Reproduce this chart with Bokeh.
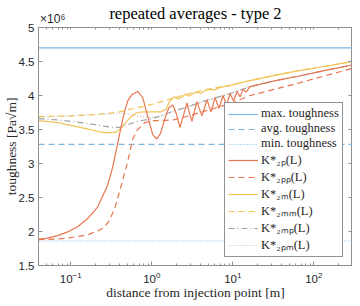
import math
from bokeh.plotting import figure
from bokeh.models import (Range1d, Legend, LegendItem, LinearAxis, LogAxis,
                          FixedTicker, LogTicker)
from bokeh.embed import file_html
from bokeh.resources import INLINE

# ---------------- data (toughness in units of 1e6 Pa*sqrt(m)) ----------------
x_limits = [0.04, 300]
y_limits = [1.5, 5.0]
y_ticks = [1.5, 2.0, 2.5, 3.0, 3.5, 4.0, 4.5, 5.0]
y_tick_labels = ["1.5", "2", "2.5", "3", "3.5", "4", "4.5", "5"]

max_toughness = 4.70
avg_toughness = 3.28
min_toughness = 1.86

k2p_x = [0.04, 0.05, 0.0687, 0.09, 0.1216, 0.1616, 0.2148, 0.2855, 0.33, 0.38, 0.42,
         0.463, 0.505, 0.566, 0.67, 0.774, 0.893, 1.03, 1.15, 1.28, 1.45, 1.62, 1.82,
         2.0, 2.22, 2.45, 2.72, 2.92, 3.13, 3.37, 3.61, 3.88, 4.16, 4.48, 4.8, 5.38,
         6.03, 6.76, 7.57, 8.37, 9.25, 10.2, 11.3, 12.3, 13.4, 14.6, 16.3, 34, 68, 139, 300]
k2p_y = [1.89, 1.90, 1.94, 1.99, 2.07, 2.19, 2.36, 2.68, 2.95, 3.30, 3.55,
         3.77, 3.92, 4.01, 4.06, 3.97, 3.69, 3.42, 3.36, 3.44, 3.66, 3.82, 3.86,
         3.74, 3.53, 3.70, 3.89, 3.74, 3.62, 3.77, 3.91, 3.80, 3.70, 3.82, 3.94, 3.76,
         3.97, 3.81, 4.00, 3.86, 4.03, 3.92, 4.06, 3.98, 4.09, 4.05, 4.13, 4.22, 4.29, 4.37, 4.45]

k2pp_x = [0.04, 0.07, 0.1, 0.16, 0.2275, 0.262, 0.30, 0.349, 0.414, 0.505, 0.582, 0.67,
          0.82, 1.0, 1.3, 1.82, 2.5, 3.93, 9.25, 16.3, 68, 300]
k2pp_y = [1.88, 1.89, 1.91, 1.95, 2.02, 2.07, 2.16, 2.34, 2.65, 3.03, 3.36, 3.50,
          3.60, 3.63, 3.63, 3.64, 3.68, 3.75, 3.88, 4.00, 4.19, 4.40]

k2m_x = [0.04, 0.07, 0.1, 0.16, 0.22, 0.28, 0.36, 0.42, 0.5, 0.58, 0.67, 0.8, 1.0, 1.3,
         1.5, 1.67, 1.9, 2.1, 2.35, 2.6, 2.9, 3.2, 3.6, 4.0, 4.5, 5.2, 6.0, 7.0, 9.25,
         16.3, 34, 68, 139, 300]
k2m_y = [3.63, 3.60, 3.56, 3.51, 3.47, 3.45, 3.46, 3.52, 3.63, 3.71, 3.75, 3.76, 3.76, 3.76,
         3.80, 3.92, 3.98, 3.95, 3.97, 4.02, 3.99, 4.03, 4.05, 4.03, 4.07, 4.09, 4.08, 4.12, 4.15,
         4.22, 4.30, 4.37, 4.43, 4.50]

k2mm_x = [0.04, 0.1, 0.2, 0.3, 0.4, 0.5, 0.67, 1.0, 1.3, 1.82, 2.72, 4.8, 9.25, 16.3,
          34, 68, 139, 300]
k2mm_y = [3.69, 3.70, 3.72, 3.74, 3.76, 3.79, 3.82, 3.87, 3.91, 3.96, 4.02, 4.09, 4.15, 4.22,
          4.30, 4.37, 4.43, 4.50]

k2mp_x = [0.04, 0.07, 0.1, 0.16, 0.25, 0.33, 0.4, 0.5, 0.67, 1.0, 1.3, 1.82, 2.72, 4.8,
          9.25, 16.3, 34, 68, 139, 300]
k2mp_y = [3.66, 3.64, 3.62, 3.59, 3.55, 3.53, 3.53, 3.57, 3.62, 3.66, 3.70, 3.77, 3.83, 3.93,
          4.03, 4.13, 4.22, 4.29, 4.37, 4.45]

k2pm_x = [0.04, 0.1, 0.2, 0.3, 0.4, 0.5, 0.67, 0.9, 1.2, 1.82, 2.72, 4.8, 9.25, 16.3,
          34, 68, 139, 300]
k2pm_y = [3.68, 3.70, 3.72, 3.73, 3.74, 3.73, 3.70, 3.68, 3.69, 3.76, 3.83, 3.93, 4.03, 4.13,
          4.22, 4.29, 4.37, 4.45]

title_text = "repeated averages - type 2"
x_label = "distance from injection point [m]"
y_label = "toughness [Pa√m]"
exponent_text = "×10⁶"

# ---------------- styles ----------------
BLUE = "#7db6e0"
ORANGE = "#e8764f"
YELLOW = "#f2c458"
GRAY = "#a3a3a3"
GRAY2 = "#bdbdbd"
AXIS = "#8f8f8f"
TEXT = "#262626"
SERIF = "Liberation Serif"
SANS = "Liberation Sans"

p = figure(width=352, height=302, x_axis_type="log", title=None,
           x_range=Range1d(*x_limits), y_range=Range1d(*y_limits),
           output_backend="svg", toolbar_location=None,
           min_border_left=31, min_border_right=0, min_border_top=20, min_border_bottom=32)
p.grid.visible = False
p.outline_line_color = AXIS
p.background_fill_color = "white"
p.border_fill_color = "white"

def style_axis(ax):
    ax.axis_line_color = AXIS
    ax.major_tick_line_color = AXIS
    ax.minor_tick_line_color = AXIS
    ax.major_tick_in = 4
    ax.major_tick_out = 0
    ax.minor_tick_in = 2
    ax.minor_tick_out = 0
    ax.major_label_text_font = SANS
    ax.major_label_text_font_size = "11.5px"
    ax.major_label_text_color = TEXT
    ax.axis_label_text_font = SERIF
    ax.axis_label_text_font_size = "13.5px"
    ax.axis_label_text_font_style = "normal"
    ax.axis_label_text_color = TEXT

xa = p.xaxis[0]
style_axis(xa)
xa.ticker = LogTicker(num_minor_ticks=10)
xa.major_label_standoff = 6
xa.axis_label = x_label
xa.axis_label_standoff = -1

ya = p.yaxis[0]
style_axis(ya)
ya.ticker = FixedTicker(ticks=y_ticks, minor_ticks=[])
ya.major_label_overrides = {t: s for t, s in zip(y_ticks, y_tick_labels)}
ya.major_label_standoff = 4
ya.axis_label = y_label
ya.axis_label_standoff = -3

# top axis: minor tick marks of the box + exponent note + title
exp_pos = 0.06
top_minor = [m * 10.0 ** e for e in range(-2, 3) for m in range(1, 10)
             if x_limits[0] <= m * 10.0 ** e <= x_limits[1]]
top = LogAxis(ticker=FixedTicker(ticks=[exp_pos], minor_ticks=top_minor))
style_axis(top)
top.major_tick_in = 0
top.minor_tick_in = 2
top.major_label_overrides = {exp_pos: exponent_text}
top.major_label_text_font_size = "12px"
top.major_label_standoff = 2
top.axis_label = title_text
top.axis_label_text_font_size = "16.5px"
top.axis_label_text_color = "black"
top.axis_label_standoff = -14
p.add_layout(top, "above")

right = LinearAxis(ticker=FixedTicker(ticks=y_ticks, minor_ticks=[]))
style_axis(right)
right.major_label_text_alpha = 0
right.major_label_text_font_size = "1px"
right.major_label_standoff = 0
p.add_layout(right, "right")

xs_full = [k2p_x[0], k2p_x[-1]]
r_max = p.line(xs_full, [max_toughness] * 2, line_color=BLUE, line_width=1.2)
r_avg = p.line(xs_full, [avg_toughness] * 2, line_color=BLUE, line_width=1.2, line_dash="6 4")
r_min = p.line(xs_full, [min_toughness] * 2, line_color=BLUE, line_width=1.2, line_dash="1 2")
r_2pm = p.line(k2pm_x, k2pm_y, line_color=GRAY2, line_width=1.2, line_dash="1 2")
r_2mp = p.line(k2mp_x, k2mp_y, line_color=GRAY, line_width=1.2, line_dash="6 3 1 3")
r_2mm = p.line(k2mm_x, k2mm_y, line_color=YELLOW, line_width=1.2, line_dash="6 4")
r_2m = p.line(k2m_x, k2m_y, line_color=YELLOW, line_width=1.2)
r_2pp = p.line(k2pp_x, k2pp_y, line_color=ORANGE, line_width=1.2, line_dash="6 4")
r_2p = p.line(k2p_x, k2p_y, line_color=ORANGE, line_width=1.2)

items = [
    LegendItem(label="max. toughness", renderers=[r_max]),
    LegendItem(label="avg. toughness", renderers=[r_avg]),
    LegendItem(label="min. toughness", renderers=[r_min]),
    LegendItem(label="K*₂ₚ(L)", renderers=[r_2p]),
    LegendItem(label="K*₂ₚₚ(L)", renderers=[r_2pp]),
    LegendItem(label="K*₂ₘ(L)", renderers=[r_2m]),
    LegendItem(label="K*₂ₘₘ(L)", renderers=[r_2mm]),
    LegendItem(label="K*₂ₘₚ(L)", renderers=[r_2mp]),
    LegendItem(label="K*₂ₚₘ(L)", renderers=[r_2pm]),
]
legend = Legend(items=items, location=(186, 8), glyph_width=30, glyph_height=14,
                label_height=14, label_width=20, spacing=0, padding=3, margin=0,
                label_standoff=3, border_line_color=TEXT, border_line_width=1,
                background_fill_color="white", background_fill_alpha=1.0,
                label_text_font=SERIF, label_text_font_size="12.5px",
                label_text_color=TEXT)
p.add_layout(legend)

open("out.html", "w").write(file_html(p, INLINE))
